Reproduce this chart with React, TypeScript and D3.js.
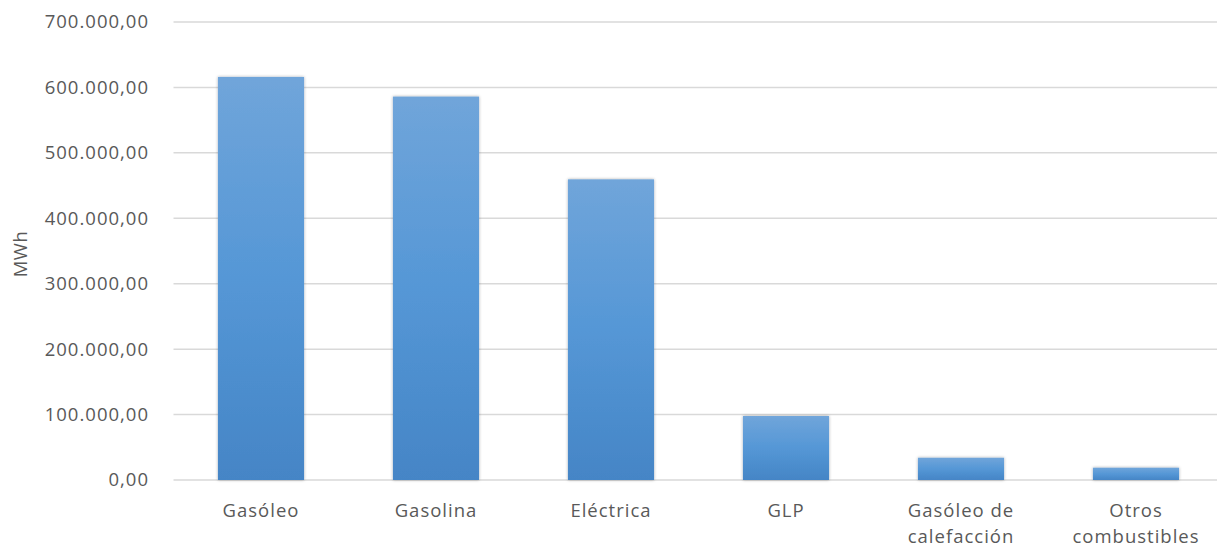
import React from "react";
import * as d3 from "d3";

const categories: string[][] = [
  ["Gasóleo"],
  ["Gasolina"],
  ["Eléctrica"],
  ["GLP"],
  ["Gasóleo de", "calefacción"],
  ["Otros", "combustibles"],
];
const values: number[] = [616000, 586000, 459500, 97800, 34000, 18800];
const yTicks: number[] = [0, 100000, 200000, 300000, 400000, 500000, 600000, 700000];
const yLabel = "MWh";

const W = 1217;
const H = 549;
const M = { left: 173.5, right: 0, top: 22, bottom: 69 };

const fmt = (v: number) => {
  const s = d3.format(",.2f")(v);
  return s.replace(/,/g, "#").replace(/\./g, ",").replace(/#/g, ".");
};

export default function App() {
  const x = d3
    .scaleBand<number>()
    .domain(d3.range(categories.length))
    .range([M.left, M.left + 175 * categories.length])
    .paddingInner(0.508)
    .paddingOuter(0.254);
  const y = d3.scaleLinear().domain([0, 700000]).range([H - M.bottom, M.top]);
  const font = "'Open Sans', 'DejaVu Sans', sans-serif";
  const fs = 18.5;
  const ls = 1;
  return (
    <svg
      width={W}
      height={H}
      style={{ position: "absolute", left: 0, top: 0, background: "#fff" }}
    >
      <defs>
        <linearGradient id="barGrad" x1="0" y1="0" x2="0" y2="1">
          <stop offset="0" stopColor="#70a5da" />
          <stop offset="0.5" stopColor="#5597d6" />
          <stop offset="1" stopColor="#4585c6" />
        </linearGradient>
        <filter id="shadow" x="-20%" y="-20%" width="140%" height="140%">
          <feDropShadow dx="0" dy="0" stdDeviation="1.6" floodColor="#000" floodOpacity="0.35" />
        </filter>
      </defs>
      {yTicks.map((t) => (
        <g key={t}>
          <line
            x1={M.left}
            x2={W}
            y1={y(t)}
            y2={y(t)}
            stroke="#d9d9d9"
            strokeWidth={1.5}
          />
          <text
            x={149}
            y={y(t)}
            dy="0.35em"
            textAnchor="end"
            fontFamily={font}
            fontSize={fs}
            letterSpacing={ls}
            fill="#595959"
          >
            {fmt(t)}
          </text>
        </g>
      ))}
      {values.map((v, i) => (
        <rect
          key={i}
          x={x(i)}
          y={y(v)}
          width={x.bandwidth()}
          height={y(0) - y(v)}
          fill="url(#barGrad)"
          filter="url(#shadow)"
        />
      ))}
      {categories.map((lines, i) => (
        <text
          key={i}
          x={(x(i) as number) + x.bandwidth() / 2}
          y={511}
          textAnchor="middle"
          fontFamily={font}
          fontSize={fs}
          letterSpacing={ls}
          fill="#595959"
        >
          {lines.map((l, j) => (
            <tspan key={j} x={(x(i) as number) + x.bandwidth() / 2} dy={j === 0 ? "0.35em" : 26}>
              {l}
            </tspan>
          ))}
        </text>
      ))}
      <text
        transform={`translate(21, 254) rotate(-90)`}
        textAnchor="middle"
        dy="0.35em"
        fontFamily={font}
        fontSize={fs}
        letterSpacing={0.5}
        fill="#595959"
      >
        {yLabel}
      </text>
    </svg>
  );
}
